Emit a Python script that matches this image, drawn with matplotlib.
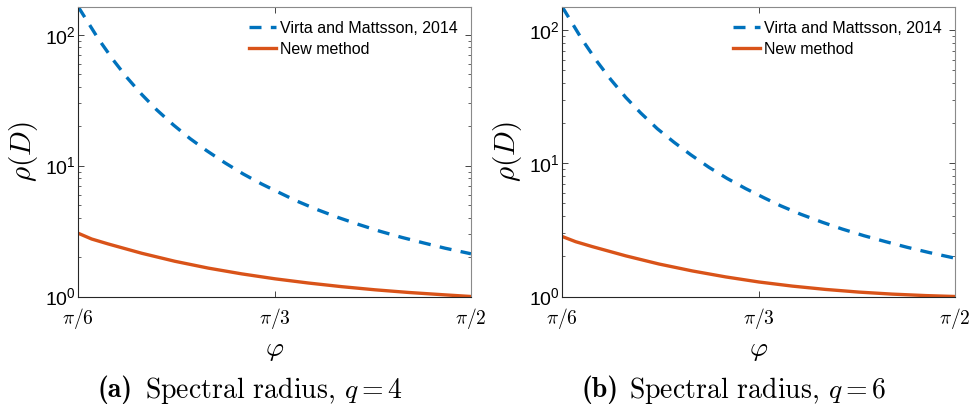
import matplotlib
matplotlib.use("Agg")
import matplotlib.pyplot as plt
import numpy as np
from matplotlib.ticker import FixedLocator, LogLocator, NullFormatter

# angle phi given in units of pi (pi/6 .. pi/2)
phi_old = [0.1667, 0.1836, 0.1964, 0.2077, 0.2205, 0.2332, 0.2473, 0.2615, 0.2757, 0.2912,
           0.3067, 0.3223, 0.3379, 0.3520, 0.3690, 0.3874, 0.4043, 0.4228, 0.4412, 0.4595,
           0.4779, 0.5000]
rho_a_old = [163.0, 93.3, 64.0, 47.4, 35.0, 26.7, 20.5, 16.1, 13.0, 10.5,
             8.63, 7.24, 6.18, 5.37, 4.63, 4.01, 3.56, 3.15, 2.83, 2.57,
             2.34, 2.12]
rho_b_old = [149.3, 84.7, 57.8, 42.7, 31.3, 23.9, 18.2, 14.4, 11.6, 9.33,
             7.69, 6.46, 5.51, 4.80, 4.15, 3.61, 3.21, 2.86, 2.58, 2.34,
             2.14, 1.94]

phi_new = [0.1667, 0.1780, 0.1921, 0.2205, 0.2487, 0.2770, 0.3054, 0.3336, 0.3619, 0.3902,
           0.4185, 0.4468, 0.4751, 0.5000]
rho_a_new = [3.04, 2.75, 2.52, 2.14, 1.858, 1.648, 1.489, 1.365, 1.268, 1.189,
             1.125, 1.074, 1.033, 1.0]
rho_b_new = [2.82, 2.58, 2.37, 2.02, 1.754, 1.556, 1.403, 1.285, 1.197, 1.130,
             1.079, 1.042, 1.016, 1.0]

x_ticks = [1 / 6, 1 / 3, 1 / 2]
x_ticklabels = [r"$\pi/6$", r"$\pi/3$", r"$\pi/2$"]
tags = ["(a)", "(b)"]
captions = [r"Spectral radius, $q=4$", r"Spectral radius, $q=6$"]

BLUE = "#0072BD"
ORANGE = "#D95319"

plt.rcParams["font.family"] = ["Liberation Sans", "DejaVu Sans"]
plt.rcParams["mathtext.fontset"] = "cm"

W, H = 974, 408
fig = plt.figure(figsize=(W / 100, H / 100), dpi=100)
panels = [
    (78.3, rho_a_old, rho_a_new, 98, tags[0], captions[0]),
    (562.3, rho_b_old, rho_b_new, 582, tags[1], captions[1]),
]

for left_px, yo, yn, cap_px, tag, cap in panels:
    ax = fig.add_axes([left_px / W, 1 - 296.5 / H, 392.7 / W, 289.5 / H])
    ax.plot(np.array(phi_old), yo, color=BLUE, lw=2.4, ls=(0, (3.6, 2.8)),
            label="Virta and Mattsson, 2014")
    ax.plot(np.array(phi_new), yn, color=ORANGE, lw=2.4, label="New method")
    ax.set_yscale("log")
    ax.set_xlim(1 / 6, 1 / 2)
    ax.set_ylim(1, max(yo))
    ax.xaxis.set_major_locator(FixedLocator(x_ticks))
    ax.set_xticklabels(x_ticklabels, fontsize=14)
    ax.yaxis.set_major_locator(LogLocator(base=10, numticks=10))
    ax.yaxis.set_minor_locator(LogLocator(base=10, subs=np.arange(2, 10), numticks=10))
    ax.yaxis.set_minor_formatter(NullFormatter())
    ax.tick_params(axis="both", which="both", direction="in", top=True, right=True,
                   color="#262626")
    ax.tick_params(axis="both", which="major", length=4, width=0.6)
    ax.tick_params(axis="both", which="minor", length=2.3, width=0.5)
    ax.tick_params(axis="x", pad=7)
    ax.tick_params(axis="y", labelsize=14, pad=2)
    for side in ["left", "bottom"]:
        ax.spines[side].set_color("#262626")
    for side in ["top", "right"]:
        ax.spines[side].set_color("#8a8a8a")
    for sp in ax.spines.values():
        sp.set_linewidth(0.8)
    ax.set_xlabel(r"$\varphi$", fontsize=20, labelpad=4)
    ax.set_ylabel(r"$\rho(D)$", fontsize=21, labelpad=3)
    ax.legend(loc="upper right", bbox_to_anchor=(0.965, 0.952), frameon=False,
              fontsize=11.5, handlelength=1.7, handletextpad=0.2, borderpad=0,
              borderaxespad=0, labelspacing=0.38)
    fig.text(cap_px / W, 1 - 390 / H, tag, ha="left", va="center", fontsize=20,
             family=["cmb10"])
    fig.text((cap_px + 47) / W, 1 - 390 / H, cap, ha="left", va="center", fontsize=20,
             family=["cmr10"])

fig.savefig("out.png", dpi=100)
